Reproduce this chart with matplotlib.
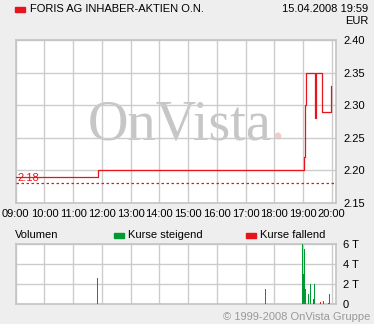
import matplotlib
matplotlib.use("Agg")
import matplotlib.pyplot as plt
from matplotlib.patches import Rectangle

# Kurs (Stunden als Dezimalzahl)
kurs_zeit = [9.0, 11.88, 19.05, 19.08, 19.12, 19.43, 19.46, 19.65, 19.96, 19.98]
kurs_wert = [2.19, 2.20, 2.22, 2.30, 2.35, 2.28, 2.35, 2.29, 2.33, 2.33]
vortag = 2.18

# Volumen
vol_zeit = [9.0, 11.84, 17.69, 18.98, 19.01, 19.05, 19.08, 19.18, 19.25, 19.36, 19.39, 19.60, 19.71, 19.88, 19.92]
vol_wert = [200, 2650, 1530, 6000, 3030, 5530, 1530, 1030, 2030, 530, 2030, 200, 330, 130, 1030]
vol_steigend = [1, 1, 1, 1, 1, 1, 1, 1, 1, 0, 1, 0, 1, 1, 1]

stunden = list(range(9, 21))
stunden_labels = ["%02d:00" % h for h in stunden]
kurs_ticks = [2.15, 2.20, 2.25, 2.30, 2.35, 2.40]
vol_ticks = [0, 2000, 4000, 6000]
vol_labels = ["0", "2 T", "4 T", "6 T"]

bg = "#eeeeee"
gitter = "#cccccc"
rot = "#e8141c"
gruen = "#009933"

plt.rcParams["font.family"] = ["Liberation Sans", "DejaVu Sans"]
plt.rcParams["font.size"] = 8

fig = plt.figure(figsize=(3.74, 3.24), dpi=100, facecolor=bg)
W, H = 374.0, 324.0

def box(x0, y0, x1, y1):
    return [x0 / W, 1 - y1 / H, (x1 - x0) / W, (y1 - y0) / H]

# Kurs-Chart
ax = fig.add_axes(box(15.7, 40, 336, 203))
ax.set_facecolor("white")
ax.set_xlim(9, 20.15)
ax.set_ylim(2.15, 2.40)
# Wasserzeichen
ax.text((88 - 15.7) / 320.3, (203 - 139) / 163.0, "OnVista", transform=ax.transAxes, fontsize=40.5,
        family="Liberation Serif", color="#c6c6c6", ha="left", va="baseline", zorder=0)
ax.text((277 - 15.7) / 320.3, (203 - 139) / 163.0, ".", transform=ax.transAxes, fontsize=40.5,
        family="Liberation Serif", color="#f2cccc", ha="center", va="baseline", zorder=0)

ax.step(kurs_zeit, kurs_wert, where="post", color=rot, lw=0.9, zorder=3)
ax.axhline(vortag, color=rot, lw=0.9, ls=(0, (2, 2)), zorder=3)
ax.text(9.05, vortag + 0.001, "%.2f" % vortag, color=rot, fontsize=8, va="bottom", ha="left", zorder=4)
ax.set_xticks(stunden)
ax.set_xticklabels(stunden_labels)
ax.set_yticks(kurs_ticks)
ax.set_yticklabels(["%.2f" % v for v in kurs_ticks])
ax.yaxis.tick_right()
ax.tick_params(length=0, pad=5, labelcolor="black", labelsize=8)
ax.tick_params(axis="x", pad=4)
ax.grid(True, color=gitter, lw=1, zorder=1)
ax.set_axisbelow(True)
for s in ax.spines.values():
    s.set_color("#c4c4c4")
    s.set_linewidth(1.2)

# Volumen-Chart
av = fig.add_axes(box(15.7, 244, 336, 304.3))
av.set_facecolor("white")
av.set_xlim(9, 20.15)
av.set_ylim(0, 6000)
farben = [gruen if s else rot for s in vol_steigend]
av.bar(vol_zeit, vol_wert, width=0.03, color=farben, align="center", zorder=3)
av.set_xticks(stunden)
av.set_xticklabels([])
av.set_yticks(vol_ticks)
av.set_yticklabels(vol_labels)
av.yaxis.tick_right()
av.tick_params(length=0, pad=5, labelsize=8)
av.grid(True, color=gitter, lw=1, zorder=1)
av.set_axisbelow(True)
for s in av.spines.values():
    s.set_color("#c4c4c4")
    s.set_linewidth(1.2)

# Kopfzeile
fig.patches.append(Rectangle((15 / W, 1 - 12 / H), 10 / W, 5 / H, transform=fig.transFigure, color=rot))
fig.text(30 / W, 1 - 9.5 / H, "FORIS AG INHABER-AKTIEN O.N.", fontsize=8, va="center", ha="left")
fig.text(368 / W, 1 - 8.5 / H, "15.04.2008 19:59", fontsize=8, va="center", ha="right")
fig.text(368 / W, 1 - 20.5 / H, "EUR", fontsize=8, va="center", ha="right")

# Legende
fig.text(15 / W, 1 - 235 / H, "Volumen", fontsize=8, va="center", ha="left")
fig.patches.append(Rectangle((114 / W, 1 - 238 / H), 10 / W, 5 / H, transform=fig.transFigure, color=gruen))
fig.text(128 / W, 1 - 235 / H, "Kurse steigend", fontsize=8, va="center", ha="left")
fig.patches.append(Rectangle((246 / W, 1 - 238 / H), 10 / W, 5 / H, transform=fig.transFigure, color=rot))
fig.text(260 / W, 1 - 235 / H, "Kurse fallend", fontsize=8, va="center", ha="left")

fig.text(370 / W, 1 - 317 / H, "\u00a9 1999-2008 OnVista Gruppe", fontsize=8, color="#999999", va="center", ha="right")

fig.savefig("out.png", dpi=100, facecolor=bg)
